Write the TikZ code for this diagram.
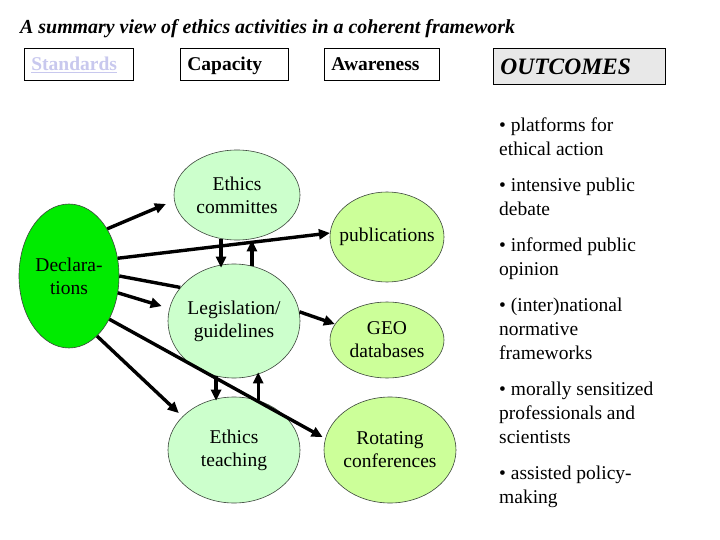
\documentclass[tikz,border=0pt]{standalone}
\usepackage{fontspec}
\setmainfont{Liberation Serif}
\usetikzlibrary{shapes.geometric,arrows.meta}
\definecolor{declgreen}{RGB}{0,235,0}
\definecolor{palegreen}{RGB}{204,255,204}
\definecolor{limegreen}{RGB}{204,255,153}
\definecolor{linkcol}{RGB}{200,200,238}
\definecolor{outgray}{RGB}{232,232,232}
\definecolor{edgecol}{RGB}{60,70,60}
\newcommand{\zw}[1]{\makebox[0pt][c]{#1}}
\tikzset{
  bubble/.style={ellipse, draw=edgecol, line width=0.6pt, inner sep=0pt, align=center,
    font=\fontsize{19.5}{23}\selectfont},
  hbox/.style={draw=black, line width=0.8pt, anchor=north west, inner sep=0pt, inner xsep=7pt,
    align=left, text height=14pt, text depth=1pt, font=\fontsize{19.5}{23}\selectfont\bfseries},
  outtext/.style={anchor=north west, inner sep=0pt, align=left, font=\fontsize{19.5}{24}\selectfont},
  arr/.style={line width=3.4pt, -{Triangle[length=11pt,width=10pt]}},
  plainline/.style={line width=3.4pt}
}
\begin{document}
\begin{tikzpicture}[x=1pt,y=-1pt]
\useasboundingbox (0,0) rectangle (720,540);
\fill[white] (0,0) rectangle (720,540);

% title
\node[anchor=base west, inner sep=0pt, font=\fontsize{19.9}{23}\selectfont\bfseries\itshape] (title) at (20,34)
  {A summary view of ethics activities in a coherent framework};

% header boxes
\node[hbox, minimum width=109pt, minimum height=32pt, text width=95pt] (std) at (24,48)
  {\textcolor{linkcol}{\underline{Standards}}};
\node[hbox, minimum width=108pt, minimum height=32pt, text width=94pt] (cap) at (180,48) {Capacity};
\node[hbox, minimum width=115pt, minimum height=32pt, text width=101pt] (awa) at (324,48) {Awareness};
\node[hbox, fill=outgray, minimum width=172pt, minimum height=36pt, text width=158pt,
  text height=17pt, font=\fontsize{23.5}{26}\selectfont\bfseries\itshape] (out) at (493,48) {OUTCOMES};

% ellipses
\node[bubble, fill=declgreen, minimum width=100pt, minimum height=144pt] (decl) at (69,276) {\zw{Declara-}\\\zw{tions}};
\node[bubble, fill=palegreen, minimum width=126pt, minimum height=90pt] (ec) at (237,195) {\zw{Ethics}\\\zw{committes}};
\node[bubble, fill=palegreen, minimum width=132pt, minimum height=114pt] (leg) at (234,321) {\zw{Legislation/}\\\zw{guidelines}};
\node[bubble, fill=palegreen, minimum width=132pt, minimum height=106pt] (et) at (234,450) {\zw{Ethics}\\\zw{teaching}};
\node[bubble, fill=limegreen, minimum width=114pt, minimum height=90pt] (pub) at (387,237) {\zw{publications}};
\node[bubble, fill=limegreen, minimum width=114pt, minimum height=76pt] (geo) at (387,340) {\zw{GEO}\\\zw{databases}};
\node[bubble, fill=limegreen, minimum width=132pt, minimum height=106pt] (rot) at (390,450) {\zw{Rotating}\\\zw{conferences}};

% outcomes text
\node[outtext] (o1) at (499,118) {• platforms for\\ethical action};
\node[outtext] (o2) at (499,178) {• intensive public\\debate};
\node[outtext] (o3) at (499,238) {• informed public\\opinion};
\node[outtext] (o4) at (499,298) {• (inter)national\\normative\\frameworks};
\node[outtext] (o5) at (499,382) {• morally sensitized\\professionals and\\scientists};
\node[outtext] (o6) at (499,466) {• assisted policy-\\making};

% connectors
\draw[arr, shorten >=9pt] (decl.51) -- (ec.185);
\draw[arr] (decl.20) -- (pub.176);
\draw[plainline] (decl.0) -- (leg.148);
\draw[arr, shorten >=8pt] (decl.-19) -- (leg.169);
\draw[arr, shorten >=3pt] (decl.-47) -- (rot.170);
\draw[arr, shorten >=5pt] (decl.-65) -- (et.147);
\draw[arr, shorten >=-4pt] (ec.-110) -- (ec.-110 |- leg.north);
\draw[arr] (leg.72) -- (leg.72 |- ec.south);
\draw[arr] (leg.8) -- (geo.163);
\draw[arr, shorten >=-4pt] (leg.-108) -- (leg.-108 |- et.north);
\draw[arr, shorten >=-6pt] (et.64) -- (et.64 |- leg.south);
\end{tikzpicture}
\end{document}
